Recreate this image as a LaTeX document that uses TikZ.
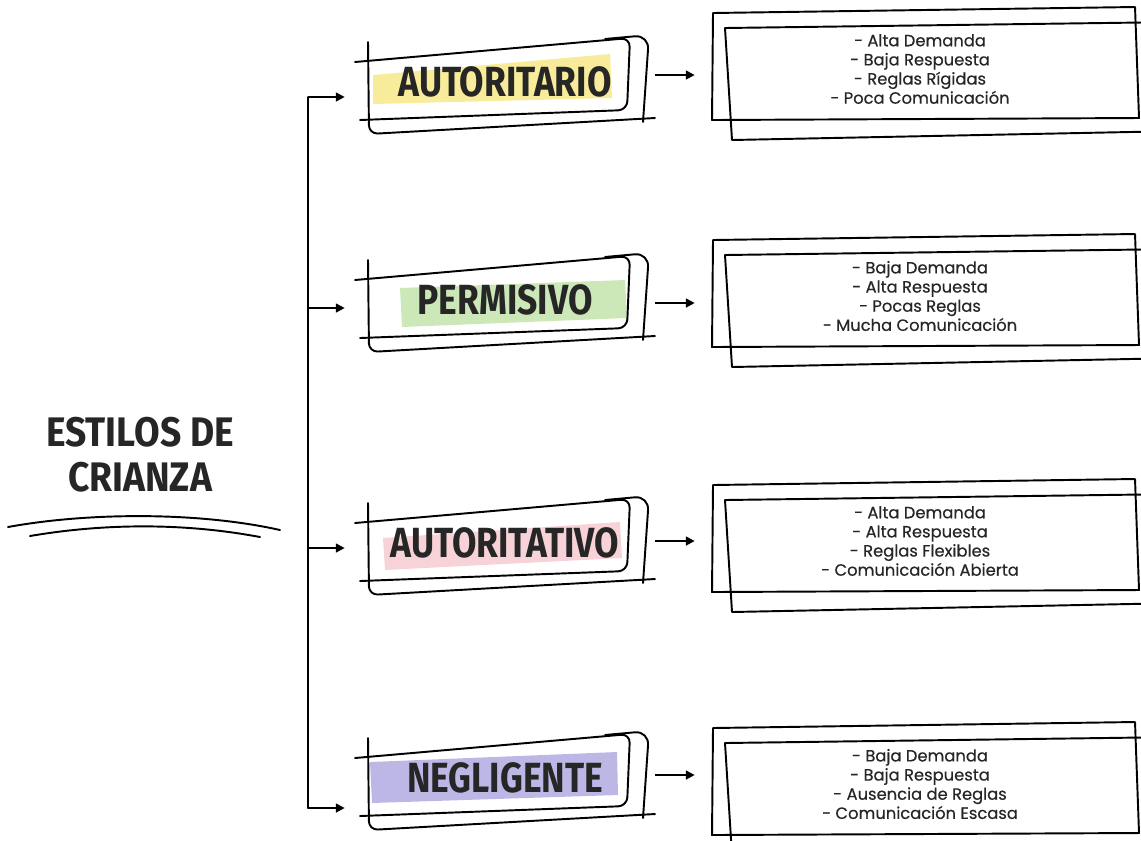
\documentclass[tikz,border=0pt]{standalone}
\usepackage{fontspec}
\setmainfont{Poppins}[FakeBold=0.45]
\newfontfamily\handfont[FakeStretch=0.84]{Fira Sans}
\newfontfamily\titlefont[FakeStretch=0.9]{Fira Sans}
\usetikzlibrary{arrows.meta,calc}
\definecolor{hlyellow}{HTML}{F8EC9A}
\definecolor{hlgreen}{HTML}{CDE8B8}
\definecolor{hlpink}{HTML}{F7D3D8}
\definecolor{hlpurple}{HTML}{BDB7E6}
\definecolor{ink}{HTML}{262626}
\begin{document}
\begin{tikzpicture}[x=0.02cm, y=-0.02cm,
  sketch/.style={line width=1.1pt, line join=round, line cap=round},
  arr/.style={line width=1.1pt, -{Triangle[length=5pt,width=5pt]}},
  title/.style={font=\titlefont\bfseries\fontsize{23.5}{25.6}\selectfont, text=ink, align=center},
  estilo/.style={font=\handfont\bfseries\fontsize{24}{26}\selectfont, text=ink, minimum width=5.8cm, minimum height=1.2cm, inner sep=0pt},
  desc/.style={font=\fontsize{9.3}{10.9}\selectfont, text=ink, align=center, minimum width=8.4cm},
  labelframe/.pic={
    \draw[sketch, rounded corners=5pt] (-150,-20) -- (125,-44) -- (122,28) -- (-145,38);
    \draw[sketch, rounded corners=5pt] (-137,-40) -- (-136,52) -- (150,36);
    \draw[sketch, rounded corners=8pt] (100,-43) -- (144,-47) -- (138,40);
  },
  descframe/.pic={
    \draw[sketch] (-207,-56) -- (215,-62) -- (219,49) -- (-208,51) -- cycle;
    \draw[sketch] (-195,-41) -- (260,-47) -- (260,62) -- (-188,71) -- cycle;
  }]
\useasboundingbox (0,0) rectangle (1141,840);
\clip (0,0) rectangle (1141,840);

% title
\node[title] (root) at (140,455) {ESTILOS DE\\CRIANZA};
\draw[sketch] (8,527) .. controls (90,512) and (200,512) .. (280,530);
\draw[sketch] (30,536) .. controls (100,524) and (180,522) .. (260,537);

% highlights
\fill[hlyellow] (373,75) -- (610,54) -- (612,98) -- (373,104) -- cycle;
\fill[hlgreen] (400,288) -- (625,280) -- (627,318) -- (402,327) -- cycle;
\fill[hlpink] (383,538) -- (620,522) -- (622,558) -- (385,570) -- cycle;
\fill[hlpurple] (370,762) -- (617,752) -- (618,795) -- (372,803) -- cycle;

% estilos
\node[estilo] (aut) at (505,82) {AUTORITARIO};
\node[estilo] (per) at (505,300) {PERMISIVO};
\node[estilo] (ati) at (505,543) {AUTORITATIVO};
\node[estilo] (neg) at (505,778) {NEGLIGENTE};
\pic at (aut) {labelframe};
\pic at (per) {labelframe};
\pic at (ati) {labelframe};
\pic at (neg) {labelframe};

% descripciones
\node[desc] (d1) at (920,69) {- Alta Demanda\\- Baja Respuesta\\- Reglas Rígidas\\- Poca Comunicación};
\node[desc] (d2) at (920,296) {- Baja Demanda\\- Alta Respuesta\\- Pocas Reglas\\- Mucha Comunicación};
\node[desc] (d3) at (920,541) {- Alta Demanda\\- Alta Respuesta\\- Reglas Flexibles\\- Comunicación Abierta};
\node[desc] (d4) at (920,784) {- Baja Demanda\\- Baja Respuesta\\- Ausencia de Reglas\\- Comunicación Escasa};
\pic at (d1) {descframe};
\pic at (d2) {descframe};
\pic at (d3) {descframe};
\pic at (d4) {descframe};

% arbol
\coordinate (t1) at (308,97);
\coordinate (t2) at (308,308);
\coordinate (t3) at (308,548);
\coordinate (t4) at (308,808);
\draw[sketch] (t1) -- (t4);
\draw[arr, shorten >=0.3cm] (t1) -- (t1 -| aut.west);
\draw[arr, shorten >=0.3cm] (t2) -- (t2 -| per.west);
\draw[arr, shorten >=0.3cm] (t3) -- (t3 -| ati.west);
\draw[arr, shorten >=0.3cm] (t4) -- (t4 -| neg.west);

\draw[arr, shorten <=0.1cm, shorten >=0.3cm] ([yshift=0.14cm]aut.east) -- ([yshift=0.14cm]aut.east -| d1.west);
\draw[arr, shorten <=0.1cm, shorten >=0.3cm] ([yshift=-0.06cm]per.east) -- ([yshift=-0.06cm]per.east -| d2.west);
\draw[arr, shorten <=0.1cm, shorten >=0.3cm] ([yshift=0.04cm]ati.east) -- ([yshift=0.04cm]ati.east -| d3.west);
\draw[arr, shorten <=0.1cm, shorten >=0.3cm] ([yshift=0.06cm]neg.east) -- ([yshift=0.06cm]neg.east -| d4.west);
\end{tikzpicture}
\end{document}
